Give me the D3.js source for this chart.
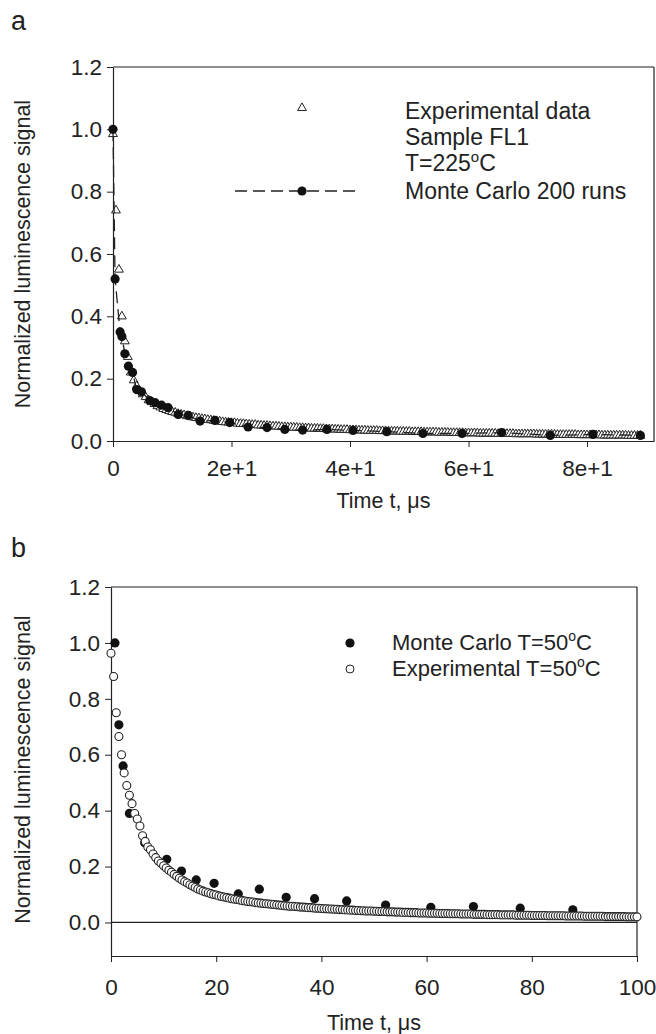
<!DOCTYPE html>
<html>
<head>
<style>
  body {
    margin: 0;
    background-color: #ffffff;
  }

  text {
    font-family: "Liberation Sans", Arial, sans-serif;
    fill: #222;
  }
</style>
  <script src="https://d3js.org/d3.v7.min.js"></script>
</head>
<body>
<script>
  // panel a - experimental data, sample FL1, T=225 C
  const expATime = [
    0, 0.5, 1, 1.5, 2, 2.5, 3, 3.5, 4, 4.5,
    5, 5.5, 6, 6.5, 7, 7.5, 8, 8.5, 9, 9.5,
    10, 10.5, 11, 11.5, 12, 12.5, 13, 13.5, 14, 14.5,
    15, 15.5, 16, 16.5, 17, 17.5, 18, 18.5, 19, 19.5,
    20, 20.5, 21, 21.5, 22, 22.5, 23, 23.5, 24, 24.5,
    25, 25.5, 26, 26.5, 27, 27.5, 28, 28.5, 29, 29.5,
    30, 30.5, 31, 31.5, 32, 32.5, 33, 33.5, 34, 34.5,
    35, 35.5, 36, 36.5, 37, 37.5, 38, 38.5, 39, 39.5,
    40, 40.5, 41, 41.5, 42, 42.5, 43, 43.5, 44, 44.5,
    45, 45.5, 46, 46.5, 47, 47.5, 48, 48.5, 49, 49.5,
    50, 50.5, 51, 51.5, 52, 52.5, 53, 53.5, 54, 54.5,
    55, 55.5, 56, 56.5, 57, 57.5, 58, 58.5, 59, 59.5,
    60, 60.5, 61, 61.5, 62, 62.5, 63, 63.5, 64, 64.5,
    65, 65.5, 66, 66.5, 67, 67.5, 68, 68.5, 69, 69.5,
    70, 70.5, 71, 71.5, 72, 72.5, 73, 73.5, 74, 74.5,
    75, 75.5, 76, 76.5, 77, 77.5, 78, 78.5, 79, 79.5,
    80, 80.5, 81, 81.5, 82, 82.5, 83, 83.5, 84, 84.5,
    85, 85.5, 86, 86.5, 87, 87.5, 88, 88.5, 89
  ];
  const expAValue = [
    0.985, 0.74, 0.55, 0.40, 0.32, 0.27, 0.22, 0.195, 0.176, 0.161,
    0.150, 0.141, 0.131, 0.125, 0.119, 0.112, 0.108, 0.103, 0.100, 0.096,
    0.093, 0.091, 0.087, 0.085, 0.083, 0.080, 0.079, 0.076, 0.074, 0.073,
    0.071, 0.070, 0.068, 0.067, 0.065, 0.064, 0.063, 0.061, 0.060, 0.059,
    0.058, 0.058, 0.056, 0.055, 0.055, 0.054, 0.053, 0.052, 0.052, 0.050,
    0.050, 0.049, 0.049, 0.048, 0.047, 0.047, 0.046, 0.045, 0.045, 0.044,
    0.044, 0.043, 0.043, 0.042, 0.042, 0.041, 0.041, 0.040, 0.040, 0.040,
    0.039, 0.039, 0.038, 0.038, 0.038, 0.037, 0.037, 0.036, 0.036, 0.036,
    0.035, 0.035, 0.035, 0.034, 0.034, 0.034, 0.033, 0.033, 0.033, 0.033,
    0.032, 0.032, 0.032, 0.031, 0.031, 0.031, 0.031, 0.030, 0.030, 0.030,
    0.030, 0.029, 0.029, 0.029, 0.029, 0.028, 0.028, 0.028, 0.028, 0.028,
    0.027, 0.027, 0.027, 0.027, 0.026, 0.026, 0.026, 0.026, 0.026, 0.025,
    0.025, 0.025, 0.025, 0.025, 0.024, 0.024, 0.024, 0.024, 0.024, 0.024,
    0.023, 0.023, 0.023, 0.023, 0.023, 0.023, 0.022, 0.022, 0.022, 0.022,
    0.022, 0.022, 0.022, 0.021, 0.021, 0.021, 0.021, 0.021, 0.021, 0.021,
    0.020, 0.020, 0.020, 0.020, 0.020, 0.020, 0.020, 0.019, 0.019, 0.019,
    0.019, 0.019, 0.019, 0.019, 0.019, 0.018, 0.018, 0.018, 0.018, 0.018,
    0.018, 0.018, 0.018, 0.018, 0.017, 0.017, 0.017, 0.017, 0.017
  ];

  // panel a - Monte Carlo 200 runs
  const mcATime = [
    0, 0.35, 1.2, 1.5, 2.0, 2.6, 3.3, 4.0, 4.8, 6.2, 7.1, 8.2, 9.3, 11.0, 12.7,
    14.7, 17.2, 19.7, 22.8, 26.0, 29.0, 32.0, 36.1, 40.5, 46.2, 52.3, 58.9,
    65.6, 73.8, 81.0, 89.0
  ];
  const mcAValue = [
    1.0, 0.52, 0.35, 0.335, 0.28, 0.24, 0.22, 0.165, 0.158, 0.13, 0.123, 0.115,
    0.107, 0.085, 0.082, 0.064, 0.066, 0.059, 0.045, 0.043, 0.037, 0.035,
    0.037, 0.034, 0.030, 0.024, 0.024, 0.027, 0.018, 0.021, 0.018
  ];

  // panel b - experimental T=50 C
  const expBTime = [
    0, 0.5, 1, 1.5, 2, 2.5, 3, 3.5, 4, 4.5,
    5, 5.5, 6, 6.5, 7, 7.5, 8, 8.5, 9, 9.5,
    10, 10.5, 11, 11.5, 12, 12.5, 13, 13.5, 14, 14.5,
    15, 15.5, 16, 16.5, 17, 17.5, 18, 18.5, 19, 19.5,
    20, 20.5, 21, 21.5, 22, 22.5, 23, 23.5, 24, 24.5,
    25, 25.5, 26, 26.5, 27, 27.5, 28, 28.5, 29, 29.5,
    30, 30.5, 31, 31.5, 32, 32.5, 33, 33.5, 34, 34.5,
    35, 35.5, 36, 36.5, 37, 37.5, 38, 38.5, 39, 39.5,
    40, 40.5, 41, 41.5, 42, 42.5, 43, 43.5, 44, 44.5,
    45, 45.5, 46, 46.5, 47, 47.5, 48, 48.5, 49, 49.5,
    50, 50.5, 51, 51.5, 52, 52.5, 53, 53.5, 54, 54.5,
    55, 55.5, 56, 56.5, 57, 57.5, 58, 58.5, 59, 59.5,
    60, 60.5, 61, 61.5, 62, 62.5, 63, 63.5, 64, 64.5,
    65, 65.5, 66, 66.5, 67, 67.5, 68, 68.5, 69, 69.5,
    70, 70.5, 71, 71.5, 72, 72.5, 73, 73.5, 74, 74.5,
    75, 75.5, 76, 76.5, 77, 77.5, 78, 78.5, 79, 79.5,
    80, 80.5, 81, 81.5, 82, 82.5, 83, 83.5, 84, 84.5,
    85, 85.5, 86, 86.5, 87, 87.5, 88, 88.5, 89, 89.5,
    90, 90.5, 91, 91.5, 92, 92.5, 93, 93.5, 94, 94.5,
    95, 95.5, 96, 96.5, 97, 97.5, 98, 98.5, 99, 99.5,
    100
  ];
  const expBValue = [
    0.963, 0.88, 0.75, 0.665, 0.60, 0.535, 0.49, 0.455, 0.425, 0.39,
    0.37, 0.345, 0.31, 0.29, 0.27, 0.26, 0.245, 0.232, 0.22, 0.212,
    0.203, 0.195, 0.187, 0.180, 0.172, 0.165, 0.158, 0.152, 0.146, 0.141,
    0.135, 0.130, 0.125, 0.120, 0.116, 0.112, 0.109, 0.106, 0.103, 0.100,
    0.098, 0.095, 0.093, 0.091, 0.089, 0.087, 0.085, 0.083, 0.082, 0.080,
    0.078, 0.077, 0.075, 0.074, 0.073, 0.071, 0.070, 0.069, 0.068, 0.067,
    0.066, 0.065, 0.064, 0.063, 0.062, 0.061, 0.060, 0.059, 0.058, 0.058,
    0.057, 0.056, 0.055, 0.055, 0.054, 0.053, 0.053, 0.052, 0.051, 0.051,
    0.050, 0.049, 0.049, 0.048, 0.048, 0.047, 0.047, 0.046, 0.046, 0.045,
    0.045, 0.044, 0.044, 0.043, 0.043, 0.042, 0.042, 0.041, 0.041, 0.041,
    0.040, 0.040, 0.039, 0.039, 0.039, 0.038, 0.038, 0.038, 0.037, 0.037,
    0.037, 0.036, 0.036, 0.036, 0.035, 0.035, 0.035, 0.034, 0.034, 0.034,
    0.034, 0.033, 0.033, 0.033, 0.033, 0.032, 0.032, 0.032, 0.032, 0.031,
    0.031, 0.031, 0.031, 0.030, 0.030, 0.030, 0.030, 0.030, 0.029, 0.029,
    0.029, 0.029, 0.029, 0.028, 0.028, 0.028, 0.028, 0.028, 0.027, 0.027,
    0.027, 0.027, 0.027, 0.027, 0.026, 0.026, 0.026, 0.026, 0.026, 0.026,
    0.025, 0.025, 0.025, 0.025, 0.025, 0.025, 0.024, 0.024, 0.024, 0.024,
    0.024, 0.024, 0.024, 0.023, 0.023, 0.023, 0.023, 0.023, 0.023, 0.023,
    0.022, 0.022, 0.022, 0.022, 0.022, 0.022, 0.022, 0.022, 0.021, 0.021,
    0.021, 0.021, 0.021, 0.021, 0.021, 0.021, 0.020, 0.020, 0.020, 0.020,
    0.020
  ];

  // panel b - Monte Carlo T=50 C
  const mcBTime = [
    0.75, 1.5, 2.3, 3.5, 6.4, 10.6, 13.4, 16.2, 19.6, 24.2, 28.2, 33.3, 38.7,
    44.8, 52.2, 60.8, 68.9, 77.8, 87.8
  ];
  const mcBValue = [
    1.0, 0.707, 0.56, 0.39, 0.285, 0.226, 0.184, 0.152, 0.14, 0.102, 0.119,
    0.09, 0.085, 0.077, 0.062, 0.054, 0.057, 0.051, 0.045
  ];

  const yTicks = [0, 0.2, 0.4, 0.6, 0.8, 1.0, 1.2];
  const xTicksA = [0, 20, 40, 60, 80];
  const xTickLabelsA = ['0', '2e+1', '4e+1', '6e+1', '8e+1'];
  const xTicksB = [0, 20, 40, 60, 80, 100];

  const ink = '#222';
  const width = 656;
  const height = 1034;
  const tickFont = 22.5;
  const titleFont = 21.5;
  const legendFont = 23;

  const svg = d3.select('body')
    .append('svg')
    .attr('width', width)
    .attr('height', height);

  const zip = (xs, ys) => xs.map((x, i) => ({ t: x, v: ys[i] }));

  // draws axes + frame for one panel, returns the scales
  const drawFrame = (cfg) => {
    const x = d3.scaleLinear().domain(cfg.xDomain).range([cfg.left, cfg.right]);
    const y = d3.scaleLinear().domain(cfg.yDomain).range([cfg.bottom, cfg.top]);

    const g = svg.append('g');

    const yAxis = d3.axisLeft(y)
      .tickValues(yTicks)
      .tickFormat(d3.format('.1f'))
      .tickSize(6)
      .tickSizeOuter(0)
      .tickPadding(5);

    const gy = g.append('g')
      .attr('transform', `translate(${cfg.left},0)`)
      .call(yAxis);

    const xAxis = d3.axisBottom(x)
      .tickValues(cfg.xTicks)
      .tickFormat((d, i) => cfg.xLabels[i])
      .tickSize(6)
      .tickSizeOuter(0)
      .tickPadding(cfg.xPad);

    const gx = g.append('g')
      .attr('transform', `translate(0,${cfg.bottom})`)
      .call(xAxis);

    [gx, gy].forEach(a => {
      a.select('.domain').attr('stroke', ink).attr('stroke-width', 1.2);
      a.selectAll('.tick line').attr('stroke', ink).attr('stroke-width', 1);
      a.selectAll('.tick text')
        .attr('font-size', tickFont)
        .style('font-family', '"Liberation Sans", Arial, sans-serif')
        .attr('fill', ink);
    });

    // top and right frame lines
    g.append('line')
      .attr('x1', cfg.left).attr('x2', cfg.right)
      .attr('y1', cfg.top).attr('y2', cfg.top)
      .attr('stroke', ink).attr('stroke-width', 1.2);
    g.append('line')
      .attr('x1', cfg.right).attr('x2', cfg.right)
      .attr('y1', cfg.top).attr('y2', cfg.bottom)
      .attr('stroke', ink).attr('stroke-width', 1.2);

    // panel letter
    svg.append('text')
      .attr('x', 11)
      .attr('y', cfg.letterY)
      .attr('font-size', 27)
      .text(cfg.letter);

    // y title
    svg.append('text')
      .attr('transform', `translate(30,${(cfg.top + cfg.bottom) / 2 + cfg.titleShift}) rotate(-90)`)
      .attr('text-anchor', 'middle')
      .attr('font-size', titleFont)
      .text('Normalized luminescence signal');

    // x title
    svg.append('text')
      .attr('x', (cfg.left + cfg.right) / 2)
      .attr('y', cfg.xTitleY)
      .attr('text-anchor', 'middle')
      .attr('font-size', titleFont)
      .text('Time t, \u03bcs');

    return { x, y };
  };

  // ---------- panel a ----------
  const a = drawFrame({
    xDomain: [0, 91.3], yDomain: [0, 1.2],
    left: 113, right: 654, top: 67, bottom: 441,
    xTicks: xTicksA, xLabels: xTickLabelsA, xPad: 13,
    letter: 'a', letterY: 30, xTitleY: 508, titleShift: 0,
  });

  const triangle = d3.symbol().type(d3.symbolTriangle).size(34);

  svg.append('g')
    .selectAll('path')
    .data(zip(expATime, expAValue))
    .join('path')
      .attr('d', triangle)
      .attr('transform', d => `translate(${a.x(d.t)},${a.y(d.v)})`)
      .attr('fill', '#fff')
      .attr('stroke', ink)
      .attr('stroke-width', 1);

  const mcA = zip(mcATime, mcAValue);

  svg.append('path')
    .datum(mcA)
    .attr('fill', 'none')
    .attr('stroke', ink)
    .attr('stroke-width', 1.3)
    .attr('stroke-dasharray', '12,6')
    .attr('d', d3.line().x(d => a.x(d.t)).y(d => a.y(d.v)));

  svg.append('g')
    .selectAll('circle')
    .data(mcA)
    .join('circle')
      .attr('cx', d => a.x(d.t))
      .attr('cy', d => a.y(d.v))
      .attr('r', 4.6)
      .attr('fill', '#111');

  // legend a
  const legA = svg.append('g');
  legA.append('path')
    .attr('d', triangle)
    .attr('transform', 'translate(302,108)')
    .attr('fill', '#fff')
    .attr('stroke', ink);

  const legLines = ['Experimental data', 'Sample FL1'];
  legLines.forEach((s, i) => {
    legA.append('text')
      .attr('x', 405)
      .attr('y', 119 + i * 26)
      .attr('font-size', legendFont)
      .text(s);
  });
  const tLabel = legA.append('text')
    .attr('x', 405)
    .attr('y', 171)
    .attr('font-size', legendFont);
  tLabel.append('tspan').text('T=225');
  tLabel.append('tspan').attr('dy', -9).attr('font-size', 15).text('o');
  tLabel.append('tspan').attr('dy', 9).text('C');

  legA.append('line')
    .attr('x1', 235).attr('x2', 360)
    .attr('y1', 191).attr('y2', 191)
    .attr('stroke', ink)
    .attr('stroke-width', 1.3)
    .attr('stroke-dasharray', '12,6');
  legA.append('circle')
    .attr('cx', 302).attr('cy', 191).attr('r', 4.6).attr('fill', '#111');
  legA.append('text')
    .attr('x', 405)
    .attr('y', 199)
    .attr('font-size', legendFont)
    .text('Monte Carlo 200 runs');

  // ---------- panel b ----------
  const b = drawFrame({
    xDomain: [0, 100], yDomain: [-0.12, 1.2],
    left: 111, right: 637, top: 587, bottom: 956,
    xTicks: xTicksB, xLabels: xTicksB.map(String), xPad: 17,
    letter: 'b', letterY: 557, xTitleY: 1030, titleShift: -2,
  });

  // zero line
  svg.append('line')
    .attr('x1', b.x(0)).attr('x2', b.x(100))
    .attr('y1', b.y(0)).attr('y2', b.y(0))
    .attr('stroke', ink)
    .attr('stroke-width', 1.2);

  svg.append('g')
    .selectAll('circle')
    .data(zip(mcBTime, mcBValue))
    .join('circle')
      .attr('cx', d => b.x(d.t))
      .attr('cy', d => b.y(d.v))
      .attr('r', 4.6)
      .attr('fill', '#111');

  svg.append('g')
    .selectAll('circle')
    .data(zip(expBTime, expBValue))
    .join('circle')
      .attr('cx', d => b.x(d.t))
      .attr('cy', d => b.y(d.v))
      .attr('r', 4)
      .attr('fill', '#fff')
      .attr('stroke', ink)
      .attr('stroke-width', 1.1);

  // legend b
  const legB = svg.append('g');
  legB.append('circle')
    .attr('cx', 350).attr('cy', 643).attr('r', 4.6).attr('fill', '#111');
  legB.append('circle')
    .attr('cx', 350).attr('cy', 669).attr('r', 4)
    .attr('fill', '#fff').attr('stroke', ink);

  const legBLabels = ['Monte Carlo T=50', 'Experimental T=50'];
  legBLabels.forEach((s, i) => {
    const t = legB.append('text')
      .attr('x', 392)
      .attr('y', 650 + i * 26)
      .attr('font-size', 22);
    t.append('tspan').text(s);
    t.append('tspan').attr('dy', -9).attr('font-size', 14).text('o');
    t.append('tspan').attr('dy', 9).text('C');
  });
</script>
</body>
</html>
